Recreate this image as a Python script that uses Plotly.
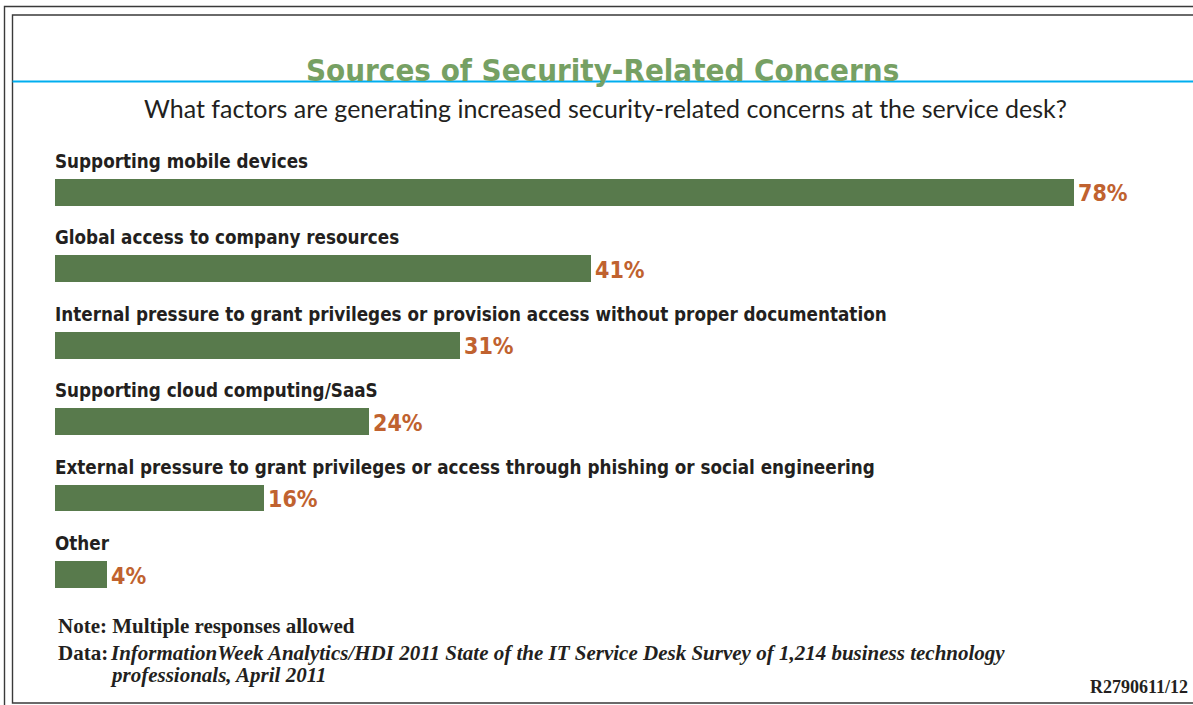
import plotly.graph_objects as go

# Survey results: share of respondents citing each factor
categories = [
    "Supporting mobile devices",
    "Global access to company resources",
    "Internal pressure to grant privileges or provision access without proper documentation",
    "Supporting cloud computing/SaaS",
    "External pressure to grant privileges or access through phishing or social engineering",
    "Other",
]
values = [78, 41, 31, 24, 16, 4]

title_text = "Sources of Security-Related Concerns"
subtitle_text = "What factors are generating increased security-related concerns at the service desk?"
note_text = "Note: Multiple responses allowed"
source_label = "Data:"
source_line1 = "InformationWeek Analytics/HDI 2011 State of the IT Service Desk Survey of 1,214 business technology"
source_line2 = "professionals, April 2011"
code_text = "R2790611/12"

W, H = 1193, 705
BAR = "#587a4c"
TITLE_GREEN = "#76a063"
VALUE_ORANGE = "#c0622f"
INK = "#231f20"
NARROW = "DejaVu Sans Condensed, Liberation Sans Narrow, Arial Narrow, sans-serif"
SERIF = "Liberation Serif, DejaVu Serif, serif"

fig = go.Figure()
fig.add_trace(go.Bar(
    x=values,
    y=categories,
    orientation="h",
    marker=dict(color=BAR, line=dict(width=0)),
    width=0.35,
    hoverinfo="skip",
))

# category labels above each bar, value labels to the right
for cat, val in zip(categories, values):
    fig.add_annotation(
        x=0, y=cat, xref="x", yref="y", text=f"<b>{cat}</b>",
        xanchor="left", yanchor="middle", xshift=-2, yshift=31, showarrow=False,
        font=dict(family=NARROW, size=18.7, color=INK),
    )
    fig.add_annotation(
        x=val, y=cat, xref="x", yref="y", text=f"<b>{val}%</b>",
        xanchor="left", yanchor="middle", xshift=2, yshift=-1, showarrow=False,
        font=dict(family=NARROW, size=23, color=VALUE_ORANGE),
    )

def px(x):
    return x / W

def py(y):
    return 1 - y / H

# double frame and title rule
frame = dict(color="#3a3a3a", width=1.4)
fig.add_shape(type="rect", xref="paper", yref="paper",
              x0=px(4.5), x1=px(1210), y0=py(6.5), y1=py(715), line=frame)
fig.add_shape(type="rect", xref="paper", yref="paper",
              x0=px(12.5), x1=px(1210), y0=py(15), y1=py(703), line=frame)
fig.add_shape(type="line", xref="paper", yref="paper",
              x0=px(12.5), x1=px(1200), y0=py(81.5), y1=py(81.5),
              line=dict(color="#00aeef", width=2.2))

fig.add_annotation(x=px(603), y=py(90), xref="paper", yref="paper",
                   text=f"<b>{title_text}</b>", xanchor="center", yanchor="bottom",
                   showarrow=False, font=dict(family=NARROW, size=31, color=TITLE_GREEN))
fig.add_annotation(x=px(605), y=py(108), xref="paper", yref="paper",
                   text=subtitle_text, xanchor="center", yanchor="middle",
                   showarrow=False, font=dict(family="Lato, sans-serif", size=25, color=INK))

fig.add_annotation(x=px(56), y=py(626), xref="paper", yref="paper",
                   text=f"<b>{note_text}</b>", xanchor="left", yanchor="middle",
                   showarrow=False, font=dict(family=SERIF, size=21, color=INK))
fig.add_annotation(x=px(56), y=py(653), xref="paper", yref="paper",
                   text=f"<b>{source_label}</b>", xanchor="left", yanchor="middle",
                   showarrow=False, font=dict(family=SERIF, size=21, color=INK))
fig.add_annotation(x=px(108), y=py(653), xref="paper", yref="paper",
                   text=f"<b><i>{source_line1}</i></b>", xanchor="left", yanchor="middle",
                   showarrow=False, font=dict(family=SERIF, size=21, color=INK))
fig.add_annotation(x=px(108), y=py(675), xref="paper", yref="paper",
                   text=f"<b><i>{source_line2}</i></b>", xanchor="left", yanchor="middle",
                   showarrow=False, font=dict(family=SERIF, size=21, color=INK))
fig.add_annotation(x=px(1190), y=py(687), xref="paper", yref="paper",
                   text=f"<b>{code_text}</b>", xanchor="right", yanchor="middle",
                   showarrow=False, font=dict(family=SERIF, size=18, color=INK))

scale = (1074 - 55) / 78  # pixels per percentage point
fig.update_layout(
    width=W, height=H,
    margin=dict(l=0, r=0, t=0, b=0),
    paper_bgcolor="white", plot_bgcolor="white",
    showlegend=False,
    bargap=0,
    xaxis=dict(domain=[55 / W, 1], range=[0, (W - 55) / scale],
               visible=False, fixedrange=True),
    yaxis=dict(domain=[1 - 618 / H, 1 - 154 / H], autorange="reversed",
               categoryorder="array", categoryarray=categories,
               visible=False, fixedrange=True),
)

fig.write_html("out.html")
